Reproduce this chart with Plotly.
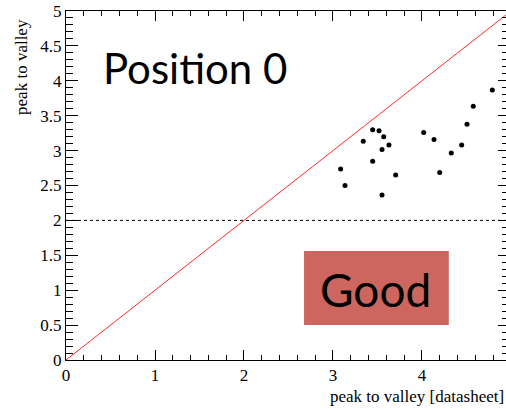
import plotly.graph_objects as go

# Peak-to-valley: measured vs. datasheet, position 0
datasheet_ptv = [3.446, 3.517, 3.570, 3.340, 3.629, 3.551, 3.446, 3.086, 3.704, 3.135,
                 3.551, 4.019, 4.135, 4.329, 4.446, 4.506, 4.199, 4.790, 4.576]
measured_ptv = [3.30, 3.286, 3.200, 3.133, 3.080, 3.014, 2.847, 2.736, 2.651, 2.499,
                2.365, 3.258, 3.158, 2.966, 3.080, 3.376, 2.685, 3.867, 3.634]

diag_x = [0, 5]
diag_y = [0, 5]
threshold = 2.0

x_range = [0, 4.944]
y_range = [0, 5]

serif = "Liberation Serif"
sans = "Lato"

fig = go.Figure()

fig.add_trace(go.Scatter(
    x=diag_x, y=diag_y, mode="lines",
    line=dict(color="#ff2a2a", width=1), hoverinfo="skip", showlegend=False,
))
fig.add_trace(go.Scatter(
    x=x_range, y=[threshold, threshold], mode="lines",
    line=dict(color="black", width=1, dash="dot"), hoverinfo="skip", showlegend=False,
))
fig.add_trace(go.Scatter(
    x=datasheet_ptv, y=measured_ptv, mode="markers",
    marker=dict(color="black", size=5), showlegend=False,
))
# invisible trace carrying the right-hand tick axis
fig.add_trace(go.Scatter(x=[0], y=[0], yaxis="y2", mode="markers",
                         marker=dict(opacity=0), hoverinfo="skip", showlegend=False))

fig.update_layout(
    width=506, height=409,
    margin=dict(l=66, r=0, t=11, b=49),
    paper_bgcolor="white", plot_bgcolor="white",
    font=dict(family=serif, size=17, color="black"),
    xaxis=dict(
        range=x_range, dtick=1, tick0=0,
        showgrid=False, zeroline=False,
        showline=True, linecolor="black", linewidth=1, mirror="ticks",
        ticks="inside", ticklen=10, tickwidth=1, tickcolor="black",
        minor=dict(dtick=0.2, ticks="inside", ticklen=5, tickcolor="black", showgrid=False),
        tickfont=dict(family=serif, size=17, color="black"),
    ),
    yaxis=dict(
        range=y_range, dtick=0.5, tick0=0,
        showgrid=False, zeroline=False,
        showline=True, linecolor="black", linewidth=1, mirror=False,
        ticks="inside", ticklen=12, tickwidth=1, tickcolor="black",
        minor=dict(dtick=0.1, ticks="inside", ticklen=7, tickcolor="black", showgrid=False),
        tickfont=dict(family=serif, size=17, color="black"),
    ),
    yaxis2=dict(
        range=y_range, dtick=0.5, tick0=0, overlaying="y", side="right",
        showgrid=False, zeroline=False, showline=False, showticklabels=False,
        ticks="inside", ticklen=8, tickwidth=1, tickcolor="black",
        minor=dict(dtick=0.1, ticks="inside", ticklen=4, tickcolor="black", showgrid=False),
    ),
    shapes=[dict(
        type="rect", xref="paper", yref="paper",
        x0=0.541, x1=0.870, y0=0.100, y1=0.312,
        fillcolor="#cc665e", line=dict(width=0), layer="above",
    )],
    annotations=[
        dict(text="peak to valley", xref="paper", yref="paper",
             x=-0.10, y=0.983, xanchor="center", yanchor="top", textangle=-90,
             showarrow=False, font=dict(family=serif, size=17, color="black")),
        dict(text="peak to valley [datasheet]", xref="paper", yref="paper",
             x=(328 - 66) / 440, y=-0.105, xanchor="left", yanchor="middle",
             showarrow=False, font=dict(family=serif, size=17, color="black")),
        dict(text="Position 0", xref="paper", yref="paper",
             x=0.293, y=0.838, xanchor="center", yanchor="middle",
             showarrow=False, font=dict(family=sans, size=42, color="black")),
        dict(text="Good", xref="paper", yref="paper",
             x=0.703, y=0.203, xanchor="center", yanchor="middle",
             showarrow=False, font=dict(family=sans, size=46, color="black")),
    ],
)

fig.write_html("out.html")
